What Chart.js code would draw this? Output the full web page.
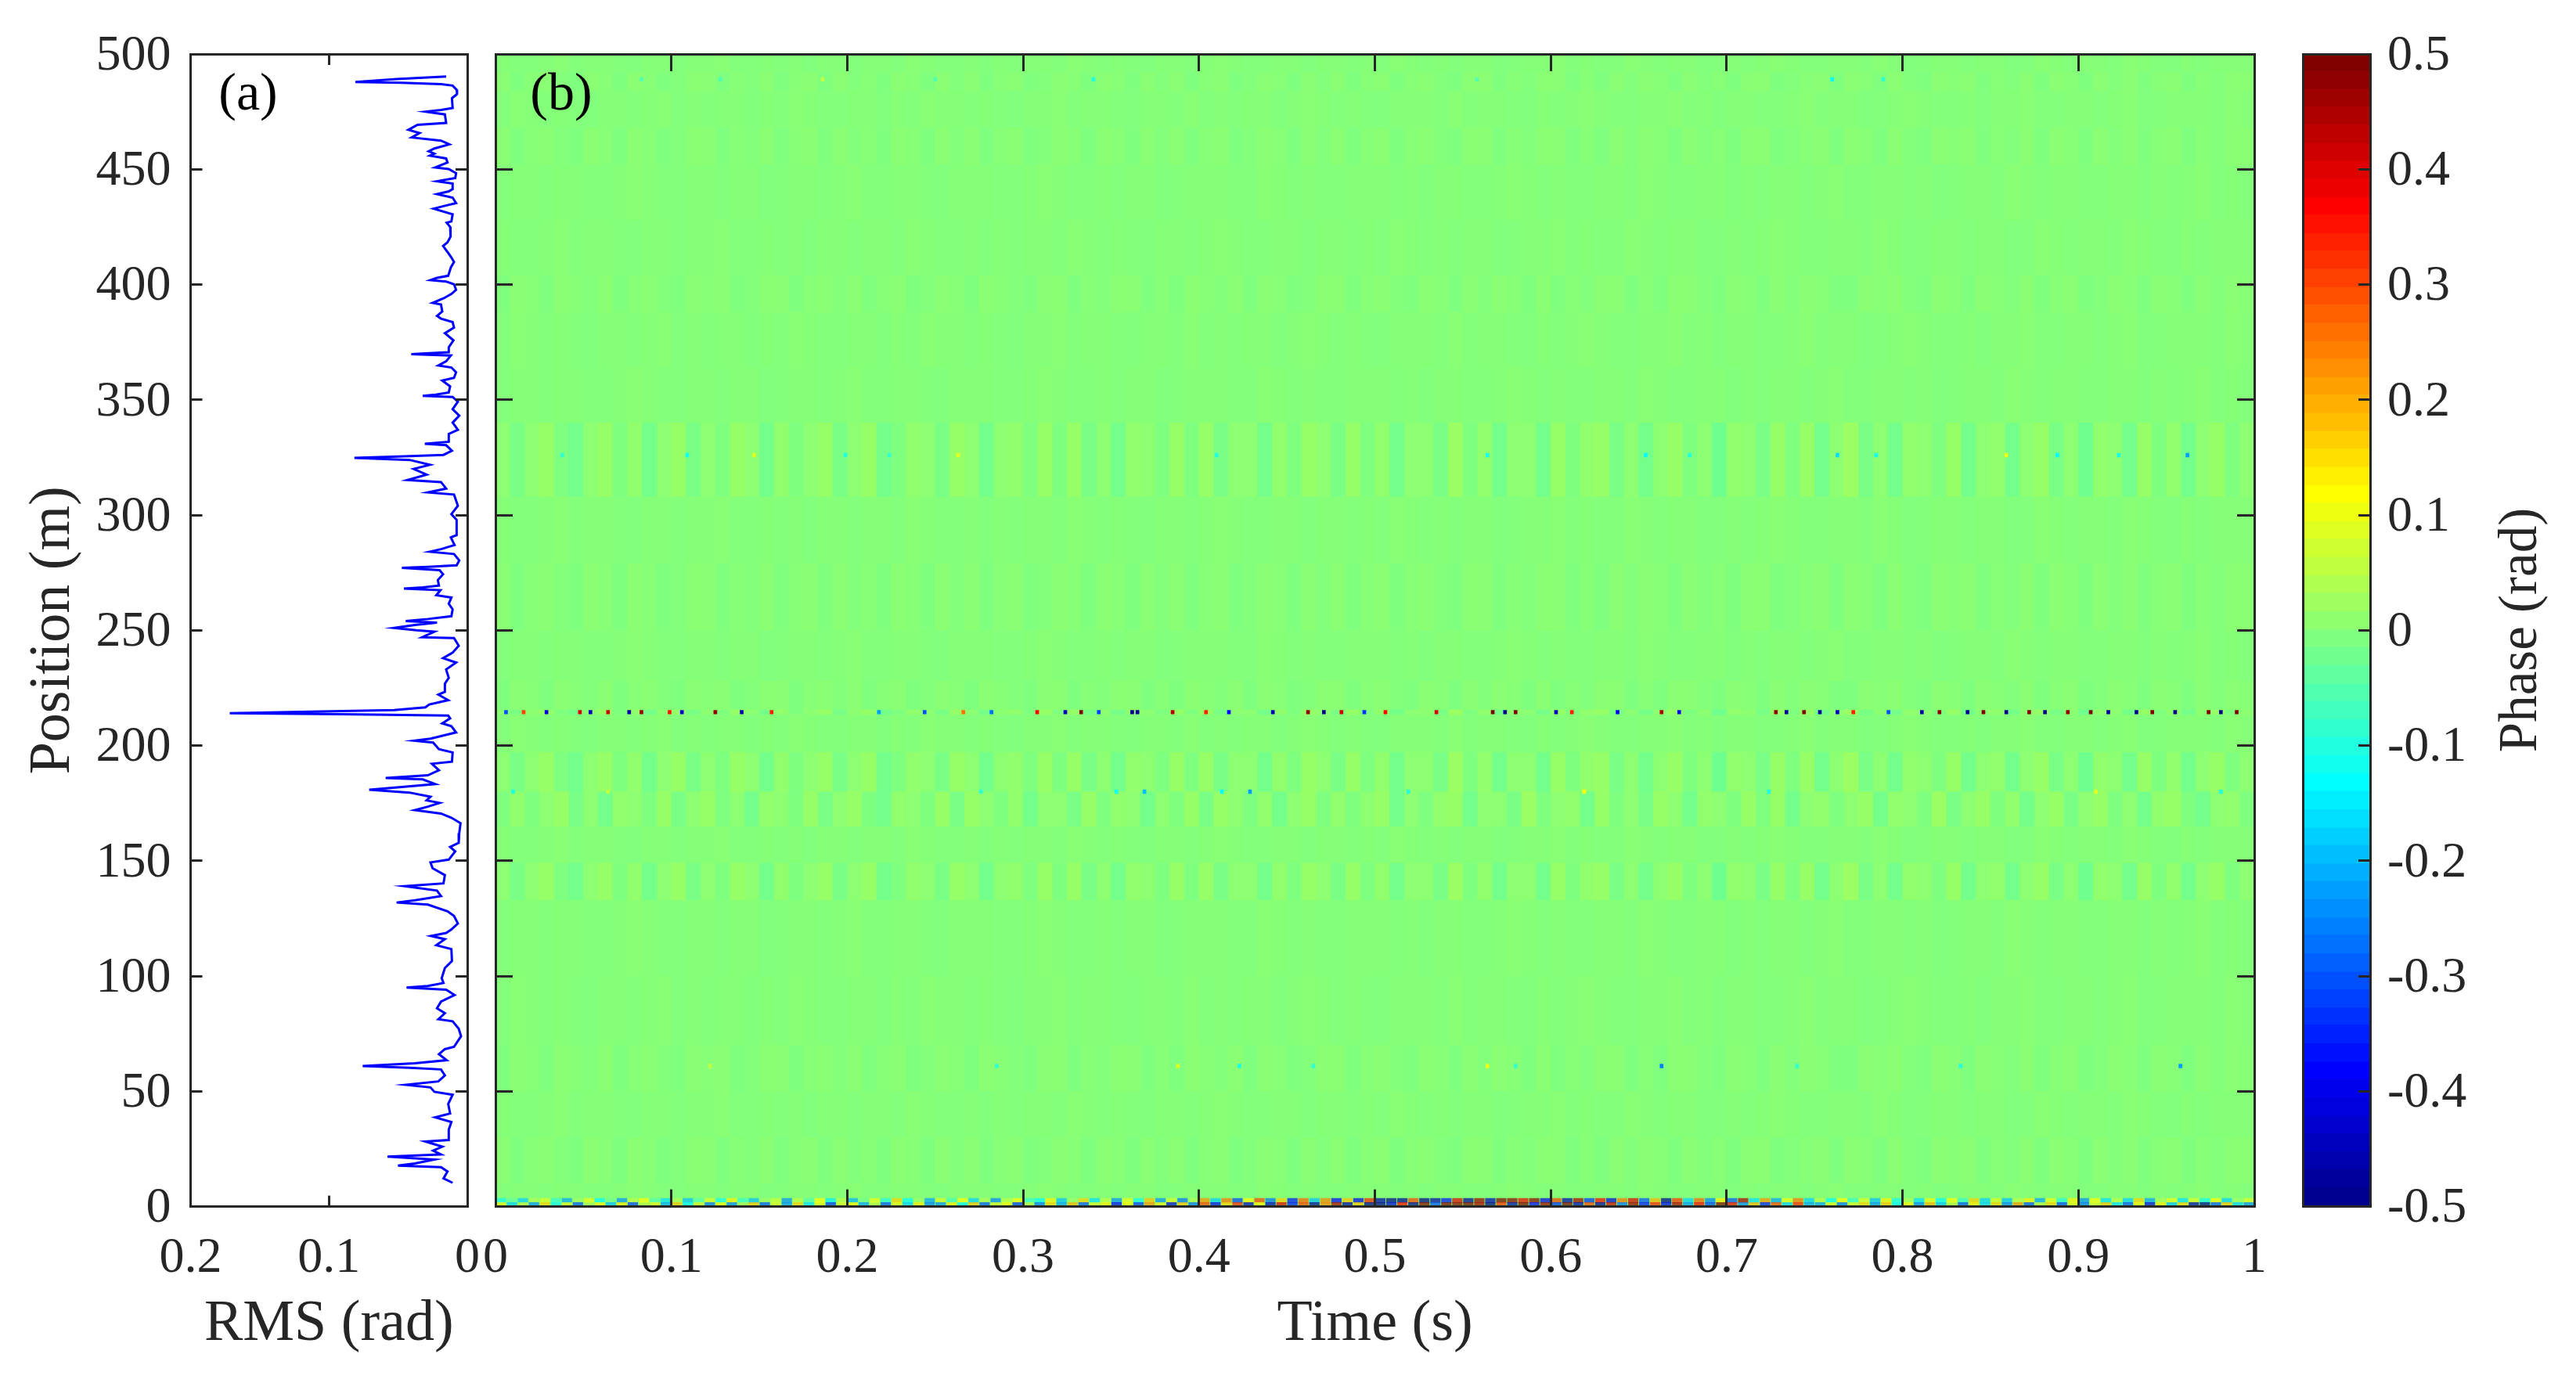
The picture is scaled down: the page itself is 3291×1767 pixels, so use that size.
<!DOCTYPE html>
<html>
<head>
<meta charset="utf-8">
<title>RMS and phase</title>
<style>
  html, body { margin: 0; background: #fff; }
  canvas { position: absolute; top: 0; }
</style>
<script src="https://cdn.jsdelivr.net/npm/chart.js@4"></script>
</head>
<body>
<canvas id="rmsChart" width="616" height="1767" style="left:0"></canvas>
<canvas id="phaseChart" width="2330" height="1767" style="left:590px"></canvas>
<canvas id="barChart" width="391" height="1767" style="left:2900px"></canvas>
<script>
/* DATA */

var positionTicks = [0, 50, 100, 150, 200, 250, 300, 350, 400, 450, 500];
var rmsTicks = [0.2, 0.1, 0];
var timeTicks = [0, 0.1, 0.2, 0.3, 0.4, 0.5, 0.6, 0.7, 0.8, 0.9, 1];
var phaseTicks = [-0.5, -0.4, -0.3, -0.2, -0.1, 0, 0.1, 0.2, 0.3, 0.4, 0.5];

// panel (a) from top to bottom
var rmsPositions = [
  490.2, 489.1, 487.9, 487.5, 486.9, 486.3, 484.5, 482.6, 480.8, 476.6, 475.7, 475, 473.8, 470.1, 469.3, 467.1, 465.7, 463.8, 462.4, 460.8,
  459, 457.8, 456.8, 455.9, 454.7, 452.9, 450.8, 450.1, 448.3, 446.2, 444.8, 443.8, 441.4, 440.4, 439.2, 437.7, 435.3, 434, 432.9, 430.5,
  427.4, 426.8, 425, 420.8, 418.3, 416.7, 414.1, 411.7, 409.8, 407.4, 403.8, 402.9, 401.9, 401.3, 400.1, 397.7, 395.9, 394, 392, 391.3,
  388.3, 386.4, 385.2, 383.7, 381.3, 378.9, 375.8, 372.8, 370.6, 370.1, 369.8, 369.2, 366.7, 364.9, 364, 361.9, 359.5, 358.3, 355.8, 353.2,
  352.2, 351.7, 351.2, 349.2, 345.9, 343.1, 340.1, 337, 335.2, 331.8, 330.9, 330.3, 327.9, 326.1, 325.5, 324.8, 323.9, 321.8, 320, 317.5,
  315.2, 314.3, 311.5, 309.8, 308.9, 304, 300.4, 297.9, 291.3, 290.3, 287, 285.2, 284.1, 283.1, 280.3, 278.2, 277.5, 277.1, 276.1, 274.3,
  271.8, 269.4, 268.6, 268.1, 267.4, 265.2, 264.2, 261.5, 259.1, 256.1, 254.9, 254, 253.3, 252.3, 251, 250, 249.4, 247, 246.6, 243.3,
  240.3, 237.9, 236, 233, 229.4, 226.9, 223.3, 222.1, 219.7, 217.8, 216.6, 215.4, 214.8, 214, 213.6, 213, 211.8, 209.6, 208.4, 205.7,
  203, 202.1, 201.3, 198.4, 197, 193, 192.1, 189.3, 187.1, 185.9, 185.3, 183.3, 182, 180.8, 179.6, 177.8, 176.2, 175.1, 173.5, 172,
  170.5, 168.7, 166.3, 162, 157.8, 156, 154.1, 150.5, 149.3, 146.8, 143.8, 140.2, 139, 137.1, 134.7, 132.9, 131.9, 131, 128.1, 126.1,
  122.8, 120.2, 118.7, 117.4, 116, 113.4, 111.7, 106.5, 103.5, 99.1, 97, 95.7, 95, 94.1, 91.8, 88.9, 86, 83.9, 81.3, 80.4,
  77.2, 73.9, 69.3, 68.3, 66.1, 63.5, 62.2, 61, 60.2, 59.5, 56.9, 54.3, 52.8, 51.7, 49.8, 48.5, 44.5, 40.4, 38.7, 36.7,
  33.4, 28.9, 28.2, 26, 24.3, 22.6, 21.7, 20.4, 18.7, 17.8, 17.1, 15.2, 12.2, 10.3
];
var rmsValues = [
  .0153, .0511, .0809, .0473, .019, .0106, .0077, .0074, .0111, .0106, .019, .03, .0162, .0153, .036, .0426, .0345, .0402, .019, .013,
  .0238, .0279, .0238, .027, .0153, .0143, .0232, .0134, .0081, .0087, .0219, .0106, .0106, .0134, .0219, .0106, .0081, .0172, .0243, .0106,
  .0115, .0149, .0124, .0121, .0143, .0175, .0143, .0115, .0096, .0119, .0138, .0219, .0266, .0153, .0096, .0081, .0115, .0172, .0251, .019,
  .0181, .0219, .019, .0106, .0096, .0162, .01, .0134, .0134, .0303, .0405, .0119, .0153, .0209, .0115, .0081, .0096, .0181, .0124, .0134,
  .0228, .0322, .0106, .0068, .0106, .0058, .0106, .0068, .0134, .0134, .0307, .0153, .0111, .0172, .0454, .0816, .0417, .027, .0388, .0294,
  .0432, .019, .0153, .0285, .0096, .0068, .0115, .0077, .0077, .0119, .0092, .019, .0271, .0096, .0058, .0077, .0285, .0473, .02, .0175,
  .0213, .0205, .0322, .0458, .0194, .0224, .0115, .0134, .0106, .0115, .0285, .0445, .0219, .0379, .053, .0369, .0238, .0326, .0096, .0062,
  .0106, .0175, .0081, .0153, .0134, .0162, .0162, .0209, .0138, .0275, .0303, .053, .1057, .1717, .0907, .0138, .0124, .0181, .0115, .0081,
  .0266, .0383, .0247, .0205, .0106, .0111, .0256, .0205, .0285, .059, .0322, .0232, .0473, .0709, .0417, .0266, .0294, .02, .0285, .0379,
  .019, .0115, .0049, .0058, .0062, .0124, .0087, .0134, .0266, .0251, .0162, .0172, .0454, .0219, .019, .0379, .0511, .0285, .0143, .0096,
  .0068, .0115, .0153, .0262, .0162, .0224, .0115, .0111, .0162, .0185, .0172, .0285, .0439, .0153, .0092, .019, .0219, .0162, .0209, .0106,
  .0062, .0045, .0096, .0162, .0205, .0149, .0379, .0756, .0417, .019, .0162, .0209, .0445, .0266, .0238, .0106, .0138, .0124, .0232, .0115,
  .0134, .0134, .0303, .0181, .0247, .019, .0577, .0238, .0379, .0501, .019, .0143, .0172, .0106
];

// each row below is one texture strip, the bands say where each strip sits
var quietA = [
  -1, 1, 1, -1, 0, 1, -1, -1, 1, 2, 1, -1, -1, 1, 0, -1, 1, 1, -2, -1, 1, 1, -1, 1, 2, -1, -1, 1, 1, -1, -2, 1, 1, 1, -1, -1, 1, 2, 1, -1,
  -1, 1, -1, 1, 1, -2, -1, 1, 1, 1, -1, -1, 2, 1, -1, 1, -1, -1, 1, 1, 1, -1, 1, -2, 1, 1, -1, -1, 1, 2, 1, -1, 1, -1, -1, 1, 1, -1, 2, 1,
  -1, -1, 1, 1, -2, 1, -1, 1, 1, -1, 1, 2, -1, -1, 1, 1, -1, 1, -2, -1, 1, 1, -1, 2, 1, -1, 1, 1, -1, -1, 1, 1, -2, 1, -1, 1, 2, -1, 1, -1
];
var quietB = [
  1, -1, -1, 1, 2, -1, 1, 1, -1, -2, 1, 1, -1, 1, 1, 2, -1, -1, 1, -1, 1, -2, 1, 1, -1, 1, 1, -1, 2, 1, -1, -1, 1, -2, 1, -1, 1, 1, -1, 2,
  1, -1, 1, -1, -2, 1, 1, -1, 1, 2, 1, -1, -1, 1, 1, -2, 1, 1, -1, 1, -1, 2, 1, -1, 1, -1, 1, 1, -2, -1, 1, 1, 2, -1, 1, -1, -1, 2, 1, -1,
  1, 1, -2, -1, 1, -1, 1, 2, 1, -1, -1, 1, 1, -1, 2, 1, -2, -1, 1, 1, -1, 1, 1, -2, -1, 2, 1, -1, 1, 1, -1, 2, 1, -1, -2, 1, -1, 1, 1, 1
];
var quietC = [
  -1, 2, 1, -1, 1, -1, -2, 1, 1, -1, 1, 2, -1, 1, -1, 1, 1, -2, 1, -1, 2, 1, -1, -1, 1, 1, -2, 1, -1, 2, 1, 1, -1, 1, -1, -2, 1, 1, 2, -1,
  1, 1, -1, -2, 1, 1, -1, 2, -1, 1, -1, 1, 1, -2, 1, 2, 1, -1, 1, -1, -2, 1, 1, 1, -1, 2, -1, 1, 1, -1, -2, 1, -1, 1, 2, 1, -1, -1, 1, 1,
  2, -1, 1, -2, 1, 1, -1, -1, 1, 2, -1, 1, 1, -2, -1, 1, 2, 1, -1, -1, 1, -2, 1, 1, 2, -1, -1, 1, 1, -1, 1, 2, -2, -1, 1, 1, 1, -1, 2, 1
];
var mildA = [
  2, -2, 1, 3, -1, -3, 2, 1, -2, 3, 1, -3, -1, 2, 3, -2, 1, -1, 3, -3, 1, 2, -2, 3, -1, 1, -3, 2, 1, -2, 3, -1, 2, -3, 1, 3, -2, -1, 2, 1,
  -3, 3, 1, -2, 2, -1, 3, -3, 1, 2, -2, -1, 3, 1, -3, 2, -1, 3, -2, 1, 2, -3, 1, 3, -1, -2, 2, 3, -3, 1, -1, 2, 3, -2, 1, -3, 2, -1, 3, 1,
  -2, 3, -1, 1, -3, 2, 3, -2, -1, 1, 3, -3, 2, 1, -2, 3, -1, -3, 2, 1, 3, -2, 1, -1, 3, -3, 2, 1, -2, 3, -1, 2, -3, 1, 3, -2, 1, -1, 2, 3
];
var mildB = [
  -2, 3, 1, -3, 2, 1, -1, 3, -2, 1, 3, -1, -3, 2, 1, 3, -2, -1, 2, 3, -3, 1, 2, -1, 3, -2, 1, 3, -3, -1, 2, 1, -2, 3, 1, -1, -3, 2, 3, -2,
  1, -1, 3, 2, -3, 1, -2, 3, 1, -1, 2, -3, 3, 1, -2, -1, 3, 2, -3, 1, 3, -1, -2, 2, 1, -3, 3, -1, 2, 1, -2, 3, -3, 1, -1, 2, 3, -2, 1, -3,
  3, 2, -1, -2, 3, 1, -3, 2, -1, 3, 1, -2, -3, 2, 1, 3, -1, -2, 3, 1, -3, 2, 1, -1, 3, -2, 1, 3, -3, -1, 2, 1, -2, 3, 1, -3, 2, -1, 3, 1
];
var strongA = [
  3, -4, 2, 5, -3, -5, 3, 6, -2, 4, -5, 2, 5, -4, 3, -3, 6, 2, -5, 4, -2, 3, 5, -4, 2, 6, -5, -3, 4, 2, -4, 5, 3, -6, 2, 4, -3, 5, -2, 6,
  -4, 3, -5, 4, 2, -3, 6, -2, 5, -4, 3, 2, -6, 4, -3, 5, 2, -4, 6, -3, 4, -5, 2, 3, -4, 7, -2, 4, -5, 3, 2, -6, 5, -3, 4, 6, -4, 2, -5, 3,
  5, -3, 2, -7, 4, 3, -4, 6, -2, 5, -5, 3, 7, -4, 2, -6, 4, 3, -3, 6, -5, 2, 4, -6, 3, 5, -4, 2, -7, 4, 3, -5, 6, -2, 4, -6, 3, 5, -3, 2
];
var strongB = [
  -3, 4, -2, 3, 5, -4, 2, -5, 4, 3, -3, 6, -4, 2, 5, -2, 3, -6, 4, 2, -3, 5, -4, 3, 6, -2, -5, 4, 2, -3, 5, -4, 6, 2, -3, 4, -5, 3, 2, -4,
  6, -3, 4, 2, -5, 3, -2, 5, -4, 6, 2, -3, 4, -6, 3, 5, -2, 4, -3, 2, 6, -5, 3, -2, 4, 5, -6, 2, 3, -4, 7, -3, 2, 4, -5, 6, -2, 3, -4, 5,
  2, -6, 4, 3, -3, 5, -2, 6, -5, 3, 4, -3, 2, 5, -6, 4, 3, -2, 7, -4, 2, 5, -3, 4, -6, 2, 5, -4, 3, 6, -3, 2, -5, 4, 6, -3, -5, 3, 4, -2
];
var phaseStrips = [quietA, quietB, quietC, mildA, mildB, strongA, strongB];

var bandTops =    [500, 492, 484, 468, 452, 428, 404, 388, 364, 340, 308, 279, 250, 228, 215.5, 213.5, 197, 180, 165, 149, 133, 100, 70, 50, 30, 10];
var bandBottoms = [492, 484, 468, 452, 428, 404, 388, 364, 340, 308, 279, 250, 228, 215.5, 213.5, 197, 180, 165, 149, 133, 100, 70, 50, 30, 10, 3.5];
var bandStrips =  [1, 3, 2, 3, 0, 1, 4, 2, 0, 5, 1, 3, 0, 4, 5, 2, 5, 6, 1, 5, 0, 2, 4, 1, 3, 0];

// dotted rows, times and phase of the specks that stand out
var spot489Times = [.083, .128, .186, .25, .34, .558, .76, .789];
var spot489Phase = [-.06, -.06, .06, -.06, -.1, -.06, -.14, -.08];
var spot326Times = [.038, .109, .147, .199, .224, .263, .41, .564, .654, .679, .763, .785, .859, .888, .923, .962];
var spot326Phase = [-.08, -.12, .08, -.1, -.08, .08, -.1, -.12, -.14, -.1, -.16, -.12, .1, -.14, -.12, -.22];
var spot214Times = [.006, .016, .029, .048, .054, .064, .076, .083, .099, .106, .125, .14, .157, .218, .244, .266, .282, .308, .324, .333, .343, .362, .365, .385, .404, .417, .442, .462, .471, .481, .494, .506, .535, .567, .574, .58, .603, .612, .638, .663, .673, .728, .734, .744, .753, .763, .772, .792, .811, .821, .837, .846, .859, .872, .881, .894, .907, .917, .933, .942, .955, .974, .981, .99];
var spot214Phase = [-.3, .3, -.42, .4, -.45, .42, -.48, .46, .35, -.42, .48, -.46, .34, -.22, -.3, .26, -.28, .36, -.44, .5, -.32, -.5, -.48, .44, .34, -.38, -.46, .48, -.5, .42, -.34, .36, .4, .5, -.5, .5, -.44, .34, -.4, .44, -.38, .48, -.5, .5, -.48, -.44, .34, -.3, -.46, .48, -.5, .5, -.5, .5, -.5, .48, .5, -.48, -.5, .5, -.5, .5, -.5, .5];
var spot180Times = [.01, .064, .276, .353, .369, .413, .429, .519, .619, .724, .91, .981];
var spot180Phase = [-.1, .06, -.08, -.12, -.2, -.14, -.22, -.1, .12, -.1, .08, -.1];
var spot61Times = [.122, .285, .388, .423, .465, .564, .58, .663, .74, .833, .958];
var spot61Phase = [.06, -.08, .08, -.12, -.08, .1, -.08, -.26, -.08, -.1, -.22];
var spotRows = [489, 326, 214.5, 180, 61];
var spotTimes = [spot489Times, spot326Times, spot214Times, spot180Times, spot61Times];
var spotPhases = [spot489Phase, spot326Phase, spot214Phase, spot180Phase, spot61Phase];

// the two noisy rows along position 0, in 0.01 rad
var edgeRowUpper = [
  -12, -4, -18, 4, 8, -9, -22, 2, 10, -14, -3, -25, 6, 12, -6, -16, 4, -20, -5, 9, -11, 14, -8, -19, 3, 7, -24, 5, -5, 12, -15, 6, -21, -2, 10, -10, 16, -13, 2, -22,
  8, -7, 12, -18, 4, -26, 6, 11, -9, -14, 14, -20, 3, 16, -16, 6, -24, 10, -12, 18, -24, 8, -28, 4, 22, -18, 26, -32, 12, 30, -28, 16, -36, 28, -20, 24, -38, 18, -40, 34,
  -46, -50, -48, 30, -50, -46, -36, 40, -48, 46, -44, 50, 48, 38, 48, -40, 30, -46, 44, -34, 36, -42, 26, 40, -30, 20, -50, 32, -18, 28, -26, 14, -30, 44, -16, 22, -22, 10, 26, -18,
  6, -14, 12, -9, 8, -20, 14, -12, 4, -16, 10, -14, 12, -8, 16, -18, 8, -20, 6, 14, -22, 10, -10, 14, -24, 12, -16, 6, -18, 16, -22, 4, 10, -16, 8, -12, 12, -18, 3, 9
];
var edgeRowLower = [
  10, -18, 6, -24, 16, -12, 8, -30, 4, 12, -20, 14, -32, 6, 10, -22, 18, -14, 8, -28, 12, -26, 4, 18, -30, 8, -24, 16, -16, 10, -34, 8, 12, -22, 6, -30, 10, -18, 14, -26,
  -24, 14, -14, 18, -30, 8, 12, -34, 6, -28, 16, -22, 20, -30, 8, 14, -38, 12, -34, 22, 10, -42, 18, -28, 30, -40, 16, 34, -44, 12, -44, 40, -36, 30, -48, 24, 44, -46, 18, -50,
  -50, -42, 36, -50, 48, -30, 50, 48, 50, 44, -50, 32, -46, 50, -38, 46, -34, 50, -44, 30, -48, 42, -28, 46, -36, 34, -40, 44, -24, 36, -32, 50, 38, -26, 20, -36, 30, -18, 34, -22,
  -22, 10, -28, 8, 16, -24, 18, -14, 12, -26, 20, -20, 6, -30, 14, -18, 16, -26, 22, -30, 6, 16, -32, 10, -28, 8, 18, -16, -30, 12, -42, 14, -20, 16, -46, -50, -30, 18, -18, -24
];

// lower edge of each of the 64 colour bar steps
var barLevels = [
  -.5, -.484, -.469, -.453, -.438, -.422, -.406, -.391, -.375, -.359, -.344, -.328, -.313, -.297, -.281, -.266,
  -.25, -.234, -.219, -.203, -.188, -.172, -.156, -.141, -.125, -.109, -.094, -.078, -.063, -.047, -.031, -.016,
  0, .016, .031, .047, .063, .078, .094, .109, .125, .141, .156, .172, .188, .203, .219, .234,
  .25, .266, .281, .297, .313, .328, .344, .359, .375, .391, .406, .422, .438, .453, .469, .484
];

/* STYLE */

var inkColor = '#262626';
var tickFont = { family: 'Liberation Serif', size: 64 };
var titleFont = { family: 'Liberation Serif', size: 74 };
// how much each texture strip shows through: the real streaks are thinner than a cell
var stripAlpha = [0.16, 0.16, 0.16, 0.24, 0.24, 0.3, 0.3];

Chart.defaults.font.family = 'Liberation Serif';
Chart.defaults.color = inkColor;
Chart.defaults.animation = false;
Chart.defaults.events = [];
Chart.defaults.plugins.legend.display = false;
Chart.defaults.plugins.tooltip.enabled = false;

// 64 step jet
function phaseColor(v, alpha) {
  var step = Math.max(0, Math.min(63, Math.floor((v + 0.5) * 64))) + 1;
  var x = step / 64;
  var ch = function(c) { return Math.round(255 * Math.max(0, Math.min(1, 1.5 - Math.abs(4 * x - c)))); };
  return 'rgba(' + ch(3) + ',' + ch(2) + ',' + ch(1) + ',' + (alpha === undefined ? 1 : alpha) + ')';
}

// axis size is set by hand, and the labels may not eat into the plot
function fixedSize(size) {
  return function(scale) {
    if (scale.isHorizontal()) { scale.height = size; } else { scale.width = size; }
    scale.paddingTop = scale.paddingBottom = scale.paddingLeft = scale.paddingRight = 0;
  };
}

// one side of a frame: inward ticks, border on top of the marks
function frameAxis(position, min, max, ticks, tickLength, size, extra) {
  return Object.assign({
    type: 'linear',
    position: position,
    min: min,
    max: max,
    offset: false,
    afterFit: fixedSize(size),
    afterBuildTicks: function(axis) {
      axis.ticks = ticks.map(function(v) { return { value: v }; });
    },
    grid: { offset: false, drawOnChartArea: false, tickLength: -tickLength, tickWidth: 3, tickColor: inkColor, z: 1 },
    border: { display: true, color: inkColor, width: 3, z: 2 },
    ticks: { display: false }
  }, extra);
}

function labelled(padding, labelOffset) {
  return {
    display: true,
    font: tickFont,
    color: inkColor,
    padding: padding,
    labelOffset: labelOffset || 0,
    autoSkip: false,
    maxRotation: 0,
    minRotation: 0,
    z: 1,
    callback: function(v) { return String(+Number(v).toFixed(1)); }
  };
}

function axisTitle(text, padding) {
  return { display: true, text: text, font: titleFont, color: inkColor, padding: padding };
}

var cornerLabel = {
  id: 'cornerLabel',
  afterDraw: function(chart, args, opts) {
    var ctx = chart.ctx;
    ctx.save();
    ctx.fillStyle = opts.color;
    ctx.font = opts.size + 'px "Liberation Serif"';
    ctx.textAlign = 'center';
    ctx.textBaseline = 'middle';
    ctx.translate(opts.x, opts.y);
    ctx.rotate(opts.rotation || 0);
    ctx.fillText(opts.text, 0, 0);
    ctx.restore();
  }
};

// the field is near zero everywhere, paint that under the cells
var plotFill = {
  id: 'plotFill',
  beforeDatasetsDraw: function(chart) {
    var a = chart.chartArea;
    chart.ctx.fillStyle = 'rgb(133,255,122)';
    chart.ctx.fillRect(a.left, a.top, a.right - a.left, a.bottom - a.top);
  }
};

/* PANEL A */

new Chart(document.getElementById('rmsChart'), {
  type: 'scatter',
  data: {
    datasets: [{
      data: rmsPositions.map(function(p, i) { return { x: rmsValues[i], y: p }; }),
      showLine: true,
      borderColor: '#0000FF',
      borderWidth: 3,
      pointRadius: 0,
      tension: 0
    }]
  },
  options: {
    responsive: false,
    layout: { padding: { top: 69, right: 19 } },
    plugins: { cornerLabel: { text: '(a)', x: 317, y: 122, size: 68, color: '#000' } },
    scales: {
      x: frameAxis('bottom', 0, 0.2, rmsTicks, 14, 225.4, { reverse: true, ticks: labelled(42), title: axisTitle('RMS (rad)', { bottom: 30 }) }),
      x2: frameAxis('top', 0, 0.2, rmsTicks, 14, 0, { reverse: true }),
      y: frameAxis('left', 0, 500, positionTicks, 15, 243.5, { ticks: labelled(40, 3), title: axisTitle('Position (m)', { top: 24 }) }),
      y2: frameAxis('right', 0, 500, positionTicks, 15, 0)
    }
  },
  plugins: [cornerLabel]
});

/* PANEL B */

var fieldCells = [];
var fieldColors = [];
bandTops.forEach(function(top, b) {
  phaseStrips[bandStrips[b]].forEach(function(v, i) {
    fieldCells.push({ x: (i + 0.5) / quietA.length, y: [bandBottoms[b], top] });
    fieldColors.push(phaseColor(v / 100, stripAlpha[bandStrips[b]]));
  });
});

var spotCells = [];
var spotColors = [];
spotRows.forEach(function(row, r) {
  spotTimes[r].forEach(function(t, i) {
    spotCells.push({ x: t, y: [row - 0.8, row + 0.8] });
    spotColors.push(phaseColor(spotPhases[r][i]));
  });
});

var edgeCells = [];
var edgeColors = [];
[edgeRowUpper, edgeRowLower].forEach(function(row, r) {
  row.forEach(function(v, i) {
    edgeCells.push({ x: (i + 0.5) / row.length, y: r === 0 ? [1.8, 3.6] : [0, 1.8] });
    edgeColors.push(phaseColor(v / 100, 0.7));
  });
});

new Chart(document.getElementById('phaseChart'), {
  type: 'bar',
  data: {
    datasets: [
      { data: edgeCells, backgroundColor: edgeColors, barThickness: 12.5, grouped: false, order: 1 },
      { data: spotCells, backgroundColor: spotColors, barThickness: 4, grouped: false, order: 2 },
      { data: fieldCells, backgroundColor: fieldColors, barThickness: 18.7, grouped: false, order: 3 }
    ]
  },
  options: {
    responsive: false,
    layout: { padding: { top: 69, right: 40 } },
    plugins: { cornerLabel: { text: '(b)', x: 127, y: 122, size: 68, color: '#000' } },
    scales: {
      x: frameAxis('bottom', 0, 1, timeTicks, 22, 225.4, { ticks: labelled(50), title: axisTitle('Time (s)', { bottom: 30 }) }),
      x2: frameAxis('top', 0, 1, timeTicks, 22, 0),
      y: frameAxis('left', 0, 500, positionTicks, 22, 43),
      y2: frameAxis('right', 0, 500, positionTicks, 22, 0)
    }
  },
  plugins: [plotFill, cornerLabel]
});

/* COLOUR BAR */

new Chart(document.getElementById('barChart'), {
  type: 'bar',
  data: {
    labels: ['phase'],
    // a hair taller than a step so no white seams show
    datasets: barLevels.map(function(lo) {
      return {
        data: [[lo, lo + 0.0165]],
        backgroundColor: phaseColor(lo + 0.001),
        grouped: false,
        barPercentage: 1,
        categoryPercentage: 1,
        yAxisID: 'y'
      };
    })
  },
  options: {
    responsive: false,
    layout: { padding: { top: 69, right: 0 } },
    plugins: { cornerLabel: { text: 'Phase (rad)', x: 322, y: 805, size: 69, color: inkColor, rotation: -Math.PI / 2 } },
    scales: {
      x: {
        type: 'category',
        position: 'bottom',
        afterFit: fixedSize(225.4),
        grid: { drawOnChartArea: false, drawTicks: false },
        border: { display: true, color: inkColor, width: 3, z: 2 },
        ticks: { display: false }
      },
      x2: {
        type: 'category',
        position: 'top',
        labels: ['phase'],
        afterFit: fixedSize(0),
        grid: { drawOnChartArea: false, drawTicks: false },
        border: { display: true, color: inkColor, width: 3, z: 2 },
        ticks: { display: false }
      },
      y: frameAxis('right', -0.5, 0.5, phaseTicks, 15, 263, { ticks: labelled(37, 3) }),
      y2: {
        type: 'linear',
        position: 'left',
        min: -0.5,
        max: 0.5,
        afterFit: fixedSize(42),
        grid: { drawOnChartArea: false, drawTicks: false },
        border: { display: true, color: inkColor, width: 3, z: 2 },
        ticks: { display: false }
      }
    }
  },
  plugins: [cornerLabel]
});
</script>
</body>
</html>
